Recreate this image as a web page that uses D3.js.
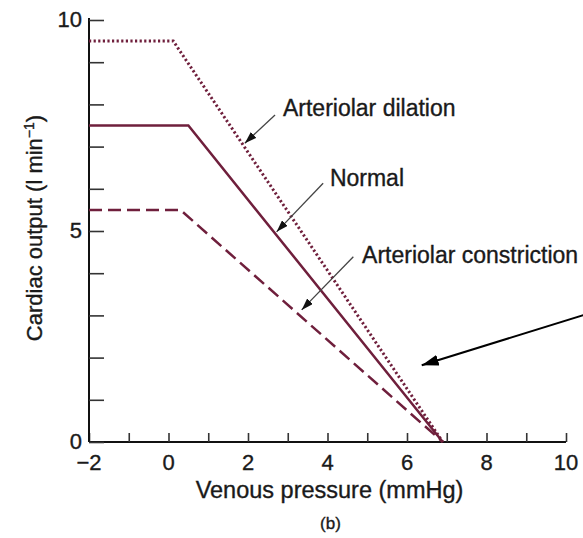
<!DOCTYPE html>
<html>
<head>
<meta charset="utf-8">
<script src="https://cdn.jsdelivr.net/npm/d3@7"></script>
<style>
  body { margin: 0; background: #fff; }
  text { font-family: "Liberation Sans", Arial, sans-serif; fill: #1a1a1a; stroke: #1a1a1a; stroke-width: 0.35px; }
</style>
</head>
<body>
<div id="chart"></div>
<script>
// venous return curves: x = venous pressure (mmHg), y = cardiac output (l/min)
const dilationX = [-2, 0.12, 6.9];
const dilationY = [9.5, 9.5, 0];
const normalX = [-2, 0.5, 6.9];
const normalY = [7.5, 7.5, 0];
const constrictionX = [-2, 0.3, 6.9];
const constrictionY = [5.5, 5.5, 0];

const xTicks = [-2, 0, 2, 4, 6, 8, 10];
const yTicks = [0, 5, 10];

// annotation labels + leader arrows (data units)
const labelText = ["Arteriolar dilation", "Normal", "Arteriolar constriction"];
const labelX = [2.88, 4.06, 4.87];
const labelY = [7.72, 6.07, 4.24];
const leaderFrom = [[2.68, 7.75], [3.89, 6.13], [4.65, 4.39]];
const leaderTo = [[1.92, 7.08], [2.72, 4.98], [3.35, 3.13]];
const bigArrowFrom = [10.45, 3.01];
const bigArrowTo = [6.37, 1.82];

const width = 583, height = 538;
const margin = { left: 89, top: 20, right: 17, bottom: 96 };
const lineColor = "#6f1f3c";

const svg = d3.select("#chart")
  .append("svg")
  .attr("width", width)
  .attr("height", height);

const x = d3.scaleLinear().domain([-2, 10]).range([margin.left, width - margin.right]);
const y = d3.scaleLinear().domain([0, 10]).range([height - margin.bottom, margin.top]);

const defs = svg.append("defs");
defs.append("marker")
  .attr("id", "head-small")
  .attr("markerUnits", "userSpaceOnUse")
  .attr("viewBox", "0 0 12 8")
  .attr("refX", 12).attr("refY", 4)
  .attr("markerWidth", 12).attr("markerHeight", 8)
  .attr("orient", "auto")
  .append("path").attr("d", "M0,0 L12,4 L0,8 Z").attr("fill", "#111");
defs.append("marker")
  .attr("id", "head-big")
  .attr("markerUnits", "userSpaceOnUse")
  .attr("viewBox", "0 0 17 11")
  .attr("refX", 17).attr("refY", 5.5)
  .attr("markerWidth", 17).attr("markerHeight", 11)
  .attr("orient", "auto")
  .append("path").attr("d", "M0,0 L17,5.5 L0,11 Z").attr("fill", "#000");

// axes
const xAxis = svg.append("g")
  .attr("transform", `translate(0,${y(0)})`)
  .call(d3.axisBottom(x).tickValues(d3.range(-2, 11, 1)).tickSize(-9).tickFormat(""));
const yAxis = svg.append("g")
  .attr("transform", `translate(${x(-2)},0)`)
  .call(d3.axisLeft(y).tickValues(d3.range(0, 11, 1)).tickSize(-15).tickFormat(""));

[xAxis, yAxis].forEach(g => {
  g.select(".domain").attr("stroke", "#111").attr("stroke-width", 2);
  g.selectAll(".tick line").attr("stroke", "#333").attr("stroke-width", 1.6);
});
xAxis.select(".domain").attr("d", `M${x(-2)},0H${x(10)}`);
yAxis.select(".domain").attr("d", `M0,${y(10) - 2}V${y(0)}`);

svg.append("g").selectAll("text")
  .data(xTicks)
  .enter()
  .append("text")
  .attr("x", d => x(d))
  .attr("y", y(0) + 28)
  .attr("text-anchor", "middle")
  .style("font-size", "22px")
  .text(d => d < 0 ? "\u2212" + Math.abs(d) : d);

svg.append("g").selectAll("text")
  .data(yTicks)
  .enter()
  .append("text")
  .attr("x", x(-2) - 7)
  .attr("y", d => y(d) + 7)
  .attr("text-anchor", "end")
  .style("font-size", "22px")
  .text(d => d);

// axis titles
svg.append("text")
  .attr("x", x(4) + 2)
  .attr("y", y(0) + 56)
  .attr("text-anchor", "middle")
  .style("font-size", "23.5px")
  .text("Venous pressure (mmHg)");

const yTitle = svg.append("text")
  .attr("transform", `translate(42,${(y(0) + y(10)) / 2 - 3}) rotate(-90)`)
  .attr("text-anchor", "middle")
  .style("font-size", "22px");
yTitle.append("tspan").text("Cardiac output (l min");
yTitle.append("tspan").attr("dy", -8).style("font-size", "14px").text("\u22121");
yTitle.append("tspan").attr("dy", 8).text(")");

svg.append("text")
  .attr("x", x(4) + 3)
  .attr("y", y(0) + 87)
  .attr("text-anchor", "middle")
  .style("font-size", "17px")
  .text("(b)");

// curves
const line = d3.line().x(d => x(d[0])).y(d => y(d[1]));
const curves = [
  { xs: dilationX, ys: dilationY, dash: "2.2,2.4", w: 3 },
  { xs: normalX, ys: normalY, dash: null, w: 2.5 },
  { xs: constrictionX, ys: constrictionY, dash: "13,6", w: 2.5 }
];
curves.forEach(c => {
  svg.append("path")
    .datum(c.xs.map((v, i) => [v, c.ys[i]]))
    .attr("d", line)
    .attr("fill", "none")
    .attr("stroke", lineColor)
    .attr("stroke-width", c.w)
    .attr("stroke-dasharray", c.dash);
});

// labels with leader arrows
svg.append("g").selectAll("line")
  .data(leaderFrom)
  .enter()
  .append("line")
  .attr("x1", d => x(d[0]))
  .attr("y1", d => y(d[1]))
  .attr("x2", (d, i) => x(leaderTo[i][0]))
  .attr("y2", (d, i) => y(leaderTo[i][1]))
  .attr("stroke", "#444")
  .attr("stroke-width", 1.3)
  .attr("marker-end", "url(#head-small)");

svg.append("g").selectAll("text")
  .data(labelText)
  .enter()
  .append("text")
  .attr("x", (d, i) => x(labelX[i]))
  .attr("y", (d, i) => y(labelY[i]))
  .style("font-size", "23px")
  .text(d => d);

svg.append("line")
  .attr("x1", x(bigArrowFrom[0]))
  .attr("y1", y(bigArrowFrom[1]))
  .attr("x2", x(bigArrowTo[0]))
  .attr("y2", y(bigArrowTo[1]))
  .attr("stroke", "#000")
  .attr("stroke-width", 2)
  .attr("marker-end", "url(#head-big)");
</script>
</body>
</html>
